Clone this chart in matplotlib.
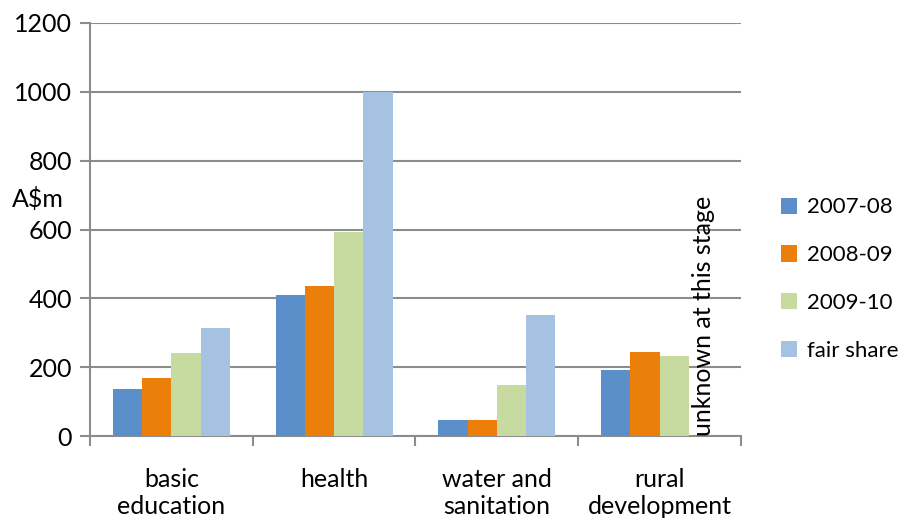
import numpy as np
import matplotlib
matplotlib.use('Agg')
from matplotlib import pyplot as plt

plt.rcParams['font.family'] = ['Lato', 'DejaVu Sans']

categories = ['basic\neducation', 'health', 'water and\nsanitation', 'rural\ndevelopment']
series = ['2007-08', '2008-09', '2009-10', 'fair share']
v_2007 = [137, 410, 48, 192]
v_2008 = [170, 437, 48, 243]
v_2009 = [240, 592, 147, 233]
v_fair = [313, 1000, 352, np.nan]
values = [v_2007, v_2008, v_2009, v_fair]
colors = ['#5B8FC9', '#EC7E0A', '#C7DBA1', '#A6C2E2']
yticks = [0, 200, 400, 600, 800, 1000, 1200]

fig = plt.figure(figsize=(9.05, 5.21), dpi=100)
ax = fig.add_axes([0.0994, 0.163, 0.7194, 0.793])

x = np.arange(len(categories))
w = 0.18
for i, vals in enumerate(values):
    ax.bar(x + (i - 1.5) * w, vals, width=w, color=colors[i], label=series[i], zorder=3)

ax.set_xlim(-0.5, 3.5)
ax.set_ylim(0, 1200)
ax.set_yticks(yticks)
ax.yaxis.grid(True, color='#8c8c8c', linewidth=1.5, zorder=0)
ax.tick_params(axis='y', length=7, width=1.5, color='#8c8c8c', labelsize=18, pad=6)

ax.set_xticks(x)
ax.set_xticklabels(categories)
ax.set_xticks([-0.5, 0.5, 1.5, 2.5, 3.5], minor=True)
ax.tick_params(axis='x', which='major', length=0, labelsize=18, pad=23)
ax.tick_params(axis='x', which='minor', length=7, width=1.5, color='#8c8c8c')

for s in ['top', 'right']:
    ax.spines[s].set_visible(False)
for s in ['left', 'bottom']:
    ax.spines[s].set_color('#8c8c8c')
    ax.spines[s].set_linewidth(1.5)

# note instead of the missing fair share bar
ax.text(3 + 1.5 * w, 0, 'unknown at this stage', rotation=90, ha='center', va='bottom',
        fontsize=18, zorder=4)

ax.text(-0.12, 0.575, 'A$m', transform=ax.transAxes, fontsize=18, ha='left', va='center')

ax.legend(loc='center left', bbox_to_anchor=(1.061, 0.38), frameon=False, fontsize=16,
          borderpad=0, borderaxespad=0,
          handlelength=0.75, handleheight=0.75, handletextpad=0.45, labelspacing=1.25)

plt.savefig('out.png', dpi=100)
